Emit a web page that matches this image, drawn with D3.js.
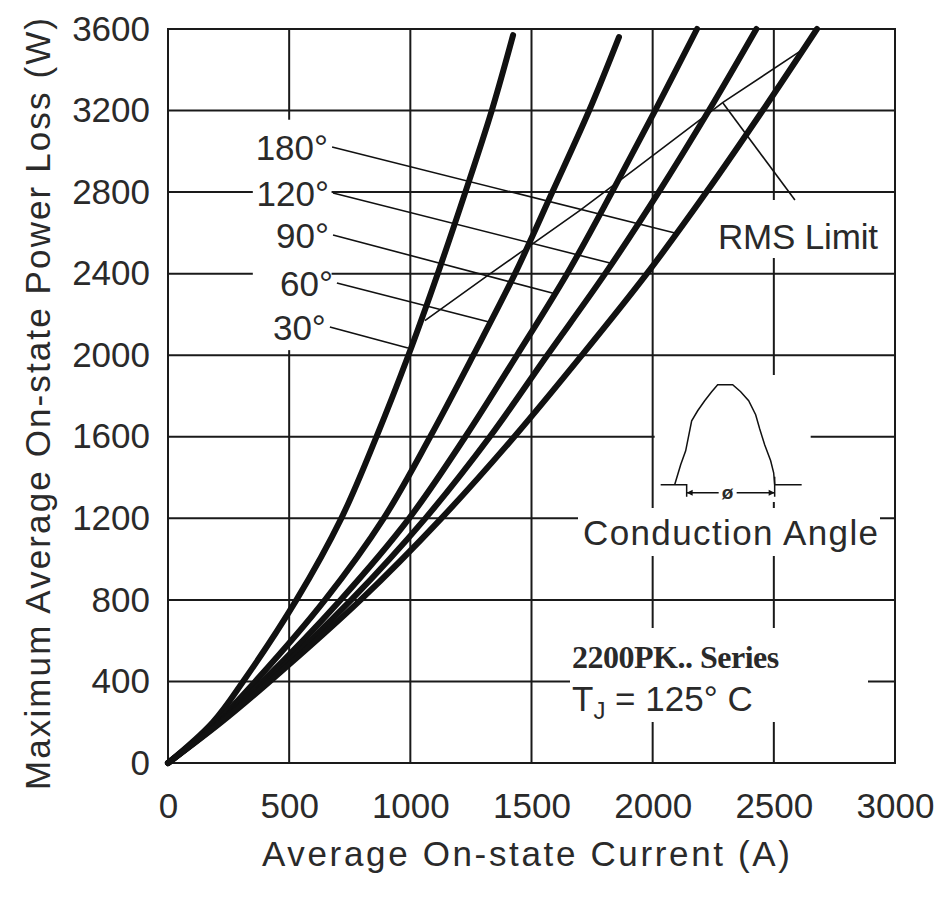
<!DOCTYPE html>
<html>
<head>
<meta charset="utf-8">
<script src="https://cdn.jsdelivr.net/npm/d3@7"></script>
<style>
body{margin:0;background:#fff;}
text{font-family:"Liberation Sans",Arial,sans-serif;fill:#2a2a2a;}
</style>
</head>
<body>
<div id="chart"></div>
<script>
var power = [0, 200, 400, 800, 1200, 1600, 2000, 2400, 2800, 3200];
var current30  = [0, 185, 310, 530, 715, 860, 992, 1113, 1227, 1336];
var current60  = [0, 200, 360, 648, 890, 1082, 1260, 1432, 1586, 1738];
var current90  = [0, 210, 390, 712, 995, 1227, 1440, 1647, 1832, 2010];
var current120 = [0, 215, 408, 756, 1062, 1328, 1565, 1804, 2025, 2232];
var current180 = [0, 220, 420, 795, 1128, 1429, 1708, 1976, 2222, 2454];
// last point of each curve (30,60,90,120,180)
var topCurrent = [1424, 1861, 2183, 2428, 2678];
var topPower   = [3570, 3560, 3600, 3600, 3600];

// RMS limit line
var rmsCurrent = [1060, 1330, 1700, 1935, 2290, 2620];
var rmsPower   = [2170, 2400, 2710, 2920, 3240, 3500];

// angle labels and their leader lines, top to bottom
var labelText = ["180°", "120°", "90°", "60°", "30°"];
var labelStartCurrent = [677, 681, 681, 697, 668];
var labelStartPower   = [3021, 2796, 2590, 2354, 2138];
var labelEndCurrent   = [2092, 1824, 1601, 1325, 990];
var labelEndPower     = [2599, 2452, 2300, 2163, 2035];

var xTicks = [0, 500, 1000, 1500, 2000, 2500, 3000];
var yTicks = [0, 400, 800, 1200, 1600, 2000, 2400, 2800, 3200, 3600];

var W = 938, H = 912;
var pL = 168, pR = 895, pT = 29, pB = 763;

var svg = d3.select("#chart").append("svg").attr("width", W).attr("height", H);

var x = d3.scaleLinear().domain([0, 3000]).range([pL, pR]);
var y = d3.scaleLinear().domain([0, 3600]).range([pB, pT]);

// grid
svg.append("g").selectAll("line").data(xTicks).enter().append("line")
    .attr("x1", function(d){return x(d);}).attr("x2", function(d){return x(d);})
    .attr("y1", pT).attr("y2", pB)
    .attr("stroke", "#1a1a1a").attr("stroke-width", 2);
svg.append("g").selectAll("line").data(yTicks).enter().append("line")
    .attr("y1", function(d){return y(d);}).attr("y2", function(d){return y(d);})
    .attr("x1", pL).attr("x2", pR)
    .attr("stroke", "#1a1a1a").attr("stroke-width", 2);

// white boxes behind annotations (they cut the grid in the original)
var boxes = [
    [x(350), y(3155), x(675) - x(350), y(2025) - y(3155)],   // angle labels
    [712, 200, 173, 58],                                       // RMS Limit
    [x(2000) + 2, 375, 156, 127],                              // waveform icon
    [578, 508, 302, 48],                                       // Conduction Angle
    [570, 628, 298, 94]                                        // series text
];
svg.append("g").selectAll("rect").data(boxes).enter().append("rect")
    .attr("x", function(d){return d[0];}).attr("y", function(d){return d[1];})
    .attr("width", function(d){return d[2];}).attr("height", function(d){return d[3];})
    .attr("fill", "#fff");

// frame
svg.append("rect").attr("x", pL).attr("y", pT)
    .attr("width", pR - pL).attr("height", pB - pT)
    .attr("fill", "none").attr("stroke", "#1a1a1a").attr("stroke-width", 2);

// axes
var xAxis = svg.append("g").attr("transform", "translate(0," + pB + ")")
    .call(d3.axisBottom(x).tickValues(xTicks).tickSize(0).tickPadding(30).tickFormat(d3.format("d")));
var yAxis = svg.append("g").attr("transform", "translate(" + pL + ",0)")
    .call(d3.axisLeft(y).tickValues(yTicks).tickSize(0).tickPadding(18).tickFormat(d3.format("d")));
[xAxis, yAxis].forEach(function(a){
    a.select(".domain").remove();
    a.selectAll("text").style("font-size", "35px").style("font-family", "Liberation Sans, Arial, sans-serif").attr("fill", "#2a2a2a");
});

// curves
var currents = [current30, current60, current90, current120, current180];
var series = currents.map(function(c, i){
    var pts = c.map(function(v, j){return [v, power[j]];});
    pts.push([topCurrent[i], topPower[i]]);
    return pts;
});
var line = d3.line().x(function(d){return x(d[0]);}).y(function(d){return y(d[1]);})
    .curve(d3.curveCatmullRom.alpha(0.5));
svg.append("g").selectAll("path").data(series).enter().append("path")
    .attr("d", line).attr("fill", "none").attr("stroke", "#111")
    .attr("stroke-width", 6).attr("stroke-linecap", "round").attr("stroke-linejoin", "round");

// RMS limit
var rms = rmsCurrent.map(function(v, i){return [v, rmsPower[i]];});
svg.append("path").attr("d", d3.line().x(function(d){return x(d[0]);}).y(function(d){return y(d[1]);})(rms))
    .attr("fill", "none").attr("stroke", "#111").attr("stroke-width", 1.6);
svg.append("line").attr("x1", x(2290)).attr("y1", y(3237)).attr("x2", x(2587)).attr("y2", y(2761))
    .attr("stroke", "#111").attr("stroke-width", 1.6);
svg.append("text").attr("x", 718).attr("y", 249).attr("textLength", 160)
    .style("font-size", "35px").text("RMS Limit");

// angle labels
labelText.forEach(function(t, i){
    var sx = x(labelStartCurrent[i]), sy = y(labelStartPower[i]);
    svg.append("line").attr("x1", sx).attr("y1", sy)
        .attr("x2", x(labelEndCurrent[i])).attr("y2", y(labelEndPower[i]))
        .attr("stroke", "#111").attr("stroke-width", 1.6);
    svg.append("text").attr("x", sx - 4).attr("y", sy + 13).attr("text-anchor", "end")
        .style("font-size", "35px").text(t);
});

// conduction angle icon
var ix = x(2000), iy = y(1600);
var hump = [[22,48],[28,28],[33,14],[39,-16],[45,-26],[52,-36],[59,-45],[65,-52],[80,-52],[88,-45],[96,-36],[103,-22],[107,-8],[112,8],[118,24],[121,36],[122,48]];
svg.append("path").attr("d", d3.line()(hump.map(function(p){return [ix + p[0], iy + p[1]];})))
    .attr("fill", "none").attr("stroke", "#111").attr("stroke-width", 1.5);
svg.append("path").attr("d",
    "M" + (ix + 8) + "," + (iy + 48) + "H" + (ix + 34) + "V" + (iy + 60) +
    "M" + (ix + 122) + "," + (iy + 40) + "V" + (iy + 60) +
    "M" + (ix + 122) + "," + (iy + 48) + "H" + (ix + 149) +
    "M" + (ix + 34) + "," + (iy + 56) + "H" + (ix + 66) +
    "M" + (ix + 84) + "," + (iy + 56) + "H" + (ix + 122))
    .attr("fill", "none").attr("stroke", "#111").attr("stroke-width", 1.5);
svg.append("path").attr("d",
    "M" + (ix + 34) + "," + (iy + 56) + "l6,-3v6z" +
    "M" + (ix + 122) + "," + (iy + 56) + "l-6,-3v6z").attr("fill", "#111");
svg.append("text").attr("x", ix + 75).attr("y", iy + 62).attr("text-anchor", "middle")
    .style("font-size", "19px").style("font-weight", "bold").attr("fill", "#111").text("ø");
svg.append("text").attr("x", 583).attr("y", 545).attr("textLength", 295)
    .style("font-size", "35px").text("Conduction Angle");

// series text
svg.append("text").attr("x", 572).attr("y", 668)
    .style("font-family", "Liberation Serif, Times New Roman, serif").style("font-weight", "bold")
    .style("font-size", "32px").style("letter-spacing", "-0.5px").attr("fill", "#111").text("2200PK.. Series");
var tj = svg.append("text").attr("x", 572).attr("y", 711).style("font-size", "35px");
tj.append("tspan").text("T");
tj.append("tspan").attr("dy", 8).style("font-size", "24px").text("J");
tj.append("tspan").attr("dy", -8).text(" = 125° C");

// axis titles
svg.append("text").attr("x", 526).attr("y", 866).attr("text-anchor", "middle").attr("textLength", 528)
    .style("font-size", "35px").text("Average On-state Current (A)");
svg.append("text").attr("transform", "translate(50,404) rotate(-90)").attr("text-anchor", "middle")
    .attr("textLength", 772).style("font-size", "35px").text("Maximum Average On-state Power Loss (W)");
</script>
</body>
</html>
